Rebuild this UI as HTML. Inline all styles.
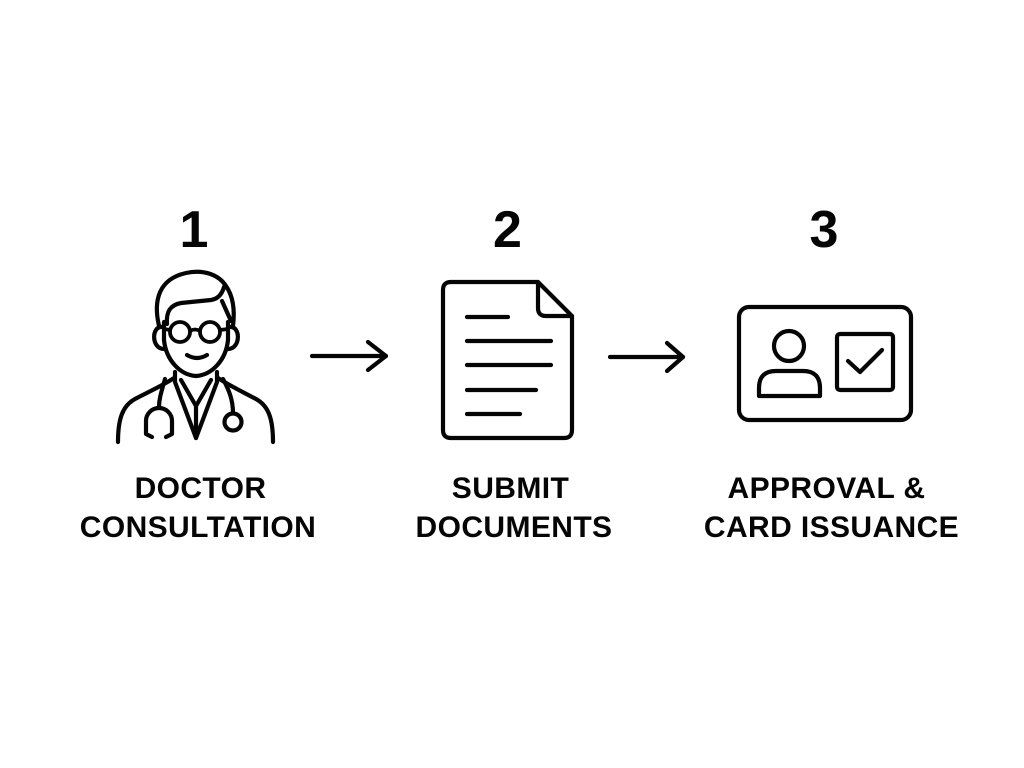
<!DOCTYPE html>
<html>
<head>
<meta charset="utf-8">
<style>
html,body{margin:0;padding:0;background:#fff;}
svg{display:block;}
text{font-family:"Liberation Sans",Arial,sans-serif;font-weight:bold;fill:#050505;}
</style>
</head>
<body>
<svg width="1024" height="768" viewBox="0 0 1024 768" xmlns="http://www.w3.org/2000/svg">
<rect width="1024" height="768" fill="#fff"/>

<!-- Numbers -->
<text x="194" y="247" font-size="52" text-anchor="middle">1</text>
<text x="507.5" y="247" font-size="52" text-anchor="middle">2</text>
<text x="824" y="247" font-size="52" text-anchor="middle">3</text>

<g fill="none" stroke="#050505" stroke-width="4.2" stroke-linecap="round" stroke-linejoin="round">
  <!-- Doctor -->
  <path d="M159,326 C153,300 159,279 186,273 C204,269 219,275 226,286 C233,296 235,310 233,326"/>
  <path d="M167,324 C166,312 170,305 181,303 L211,300 C218,299 222,294 224,287"/>
  <path d="M222,301 L231,321"/>
  <path d="M164,322 L164,340 C166,360 180,375 196,376 C212,375 226,360 228,340 L228,322"/>
  <path d="M163,327 C151,325 151,349 164,349"/>
  <path d="M229,327 C241,325 241,349 228,349"/>
  <circle cx="180" cy="332" r="10" stroke-width="3.8"/>
  <circle cx="210" cy="332" r="10" stroke-width="3.8"/>
  <path d="M190,331 Q195,328 200,331" stroke-width="3.8"/>
  <path d="M170,330 L164,329" stroke-width="3.8"/>
  <path d="M220,330 L228,329" stroke-width="3.8"/>
  <path d="M187,355 Q197,361 207,355"/>
  <path d="M118,442 C118,420 122,406 135,399 C148,392 162,386 174,378"/>
  <path d="M273,442 C273,420 269,406 256,399 C243,392 230,386 218,378"/>
  <path d="M175,372 L175,382 L196,438 L217,382 L217,372"/>
  <path d="M181,380 L196,406 L211,380"/>
  <path d="M196,406 L196,438"/>
  <path d="M165,379 C162,390 159,398 159,407"/>
  <path d="M152,437 L146,434 L146,421 A13,13 0 0 1 172,421 L172,434 L166,437"/>
  <path d="M223,379 C229,390 233,400 233,413"/>
  <circle cx="233" cy="422" r="8.5"/>

  <!-- Arrow 1 -->
  <path d="M312,356 L386,356"/>
  <path d="M368,342 L386,356 L368,370"/>

  <!-- Document -->
  <path d="M538,282 L451,282 Q443,282 443,290 L443,430 Q443,438 451,438 L564,438 Q572,438 572,430 L572,316 Z"/>
  <path d="M538,282 L538,308 Q538,316 546,316 L572,316"/>
  <path d="M467,317 L508,317"/>
  <path d="M467,341 L551,341"/>
  <path d="M467,365 L551,365"/>
  <path d="M467,390 L536,390"/>
  <path d="M467,414 L520,414"/>

  <!-- Arrow 2 -->
  <path d="M610,357 L683,357"/>
  <path d="M667,343 L683,357 L667,371"/>

  <!-- Card -->
  <rect x="739" y="307" width="172" height="113" rx="10"/>
  <circle cx="789" cy="346" r="15"/>
  <path d="M759,396 L759,388 Q759,371 776,371 L803,371 Q820,371 820,388 L820,396 Z"/>
  <rect x="837" y="334" width="56" height="56" rx="3"/>
  <path d="M848,361 L860,372 L882,350"/>
</g>

<!-- Labels -->
<g font-size="30" text-anchor="middle" letter-spacing="0.4">
  <text x="200.5" y="498">DOCTOR</text>
  <text x="198" y="537">CONSULTATION</text>
  <text x="510.5" y="498">SUBMIT</text>
  <text x="514" y="537">DOCUMENTS</text>
  <text x="826.5" y="498">APPROVAL &amp;</text>
  <text x="831.5" y="537">CARD ISSUANCE</text>
</g>
</svg>
</body>
</html>
